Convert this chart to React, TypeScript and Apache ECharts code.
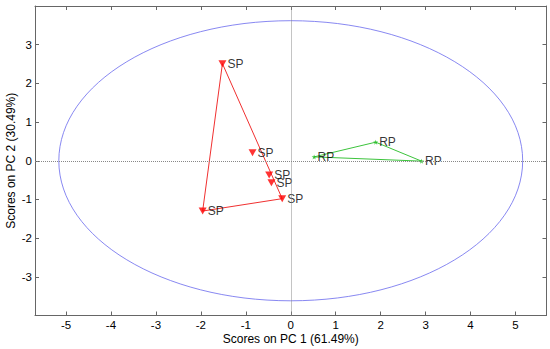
import React, { useEffect, useRef } from "react";
import * as echarts from "echarts";

const spX = [-1.52, -0.85, -0.48, -0.43, -0.19, -1.96];
const spY = [2.51, 0.21, -0.37, -0.57, -0.98, -1.3];
const spLabels = ["SP", "SP", "SP", "SP", "SP", "SP"];
const spHull = [0, 4, 5, 0];

const rpX = [0.52, 1.89, 2.91];
const rpY = [0.1, 0.48, -0.01];
const rpLabels = ["RP", "RP", "RP"];
const rpHull = [0, 1, 2, 0];

const ellipseCenter = [0, 0];
const ellipseRadii = [5.16, 3.62];

const xTicks = [-5, -4, -3, -2, -1, 0, 1, 2, 3, 4, 5];
const yTicks = [-3, -2, -1, 0, 1, 2, 3];
const xRange = [-5.69, 5.69];
const yRange = [-4, 4];

const FONT = "Liberation Sans, Arial, sans-serif";
const AXIS_COLOR = "#666";

export default function App() {
  const ref = useRef<HTMLDivElement>(null);
  useEffect(() => {
    if (!ref.current) return;
    const chart = echarts.init(ref.current, null, { renderer: "svg" });
    const spData = spX.map((x, i) => ({ value: [x, spY[i]], label: spLabels[i] }));
    const rpData = rpX.map((x, i) => ({ value: [x, rpY[i]], label: rpLabels[i] }));
    const baseAxisX = {
      type: "value",
      min: xRange[0],
      max: xRange[1],
      axisLine: { show: true, onZero: false, lineStyle: { color: AXIS_COLOR, width: 1 } },
      axisTick: { show: true, inside: true, length: 4, customValues: xTicks, lineStyle: { color: AXIS_COLOR } },
      splitLine: { show: false },
    };
    const baseAxisY = {
      type: "value",
      min: yRange[0],
      max: yRange[1],
      axisLine: { show: true, onZero: false, lineStyle: { color: AXIS_COLOR, width: 1 } },
      axisTick: { show: true, inside: true, length: 4, customValues: yTicks, lineStyle: { color: AXIS_COLOR } },
      splitLine: { show: false },
    };
    const labelStyle = {
      show: true,
      position: "right",
      distance: 1,
      fontSize: 12,
      fontFamily: FONT,
      color: "#000",
      formatter: (p: any) => p.data.label,
    };
    chart.setOption({
      animation: false,
      backgroundColor: "#fff",
      grid: { left: 35, top: 6, right: 3.5, bottom: 33.5, containLabel: false, outerBoundsMode: "none" },
      xAxis: [
        {
          ...baseAxisX,
          position: "bottom",
          name: "Scores on PC 1 (61.49%)",
          nameLocation: "middle",
          nameGap: 17,
          nameMoveOverlap: false,
          nameTextStyle: { fontSize: 12, fontFamily: FONT, color: "#000" },
          axisLabel: { show: true, customValues: xTicks, fontSize: 11.5, lineHeight: 11, fontFamily: FONT, color: "#000", margin: 4 },
        },
        { ...baseAxisX, position: "top", axisLabel: { show: false } },
      ],
      yAxis: [
        {
          ...baseAxisY,
          position: "left",
          name: "Scores on PC 2 (30.49%)",
          nameLocation: "middle",
          nameGap: 18,
          nameMoveOverlap: false,
          nameTextStyle: { fontSize: 12, fontFamily: FONT, color: "#000" },
          axisLabel: { show: true, customValues: yTicks, fontSize: 11.5, fontFamily: FONT, color: "#000", margin: 3 },
        },
        { ...baseAxisY, position: "right", axisLabel: { show: false } },
      ],
      series: [
        {
          type: "custom",
          data: [[ellipseCenter[0], ellipseCenter[1], ellipseRadii[0], ellipseRadii[1]]],
          renderItem: (params: any, api: any) => {
            const c = api.coord([api.value(0), api.value(1)]);
            const s = api.size([api.value(2), api.value(3)]);
            return {
              type: "ellipse",
              shape: { cx: c[0], cy: c[1], rx: s[0], ry: s[1] },
              style: { fill: "none", stroke: "#6a6aee", lineWidth: 0.8 },
              silent: true,
            };
          },
          markLine: {
            silent: true,
            symbol: "none",
            label: { show: false },
            lineStyle: { color: "#888", type: [1, 1], width: 1 },
            data: [{ xAxis: 0 }, { yAxis: 0 }],
          },
          z: 1,
        },
        {
          type: "line",
          data: spHull.map((i) => [spX[i], spY[i]]),
          symbol: "none",
          lineStyle: { color: "#f03030", width: 1 },
          silent: true,
          z: 2,
        },
        {
          type: "line",
          data: rpHull.map((i) => [rpX[i], rpY[i]]),
          symbol: "none",
          lineStyle: { color: "#3cc43c", width: 1 },
          silent: true,
          z: 2,
        },
        {
          type: "scatter",
          data: spData,
          symbol: "triangle",
          symbolRotate: 180,
          symbolSize: [8, 7],
          itemStyle: { color: "#ff0000" },
          label: labelStyle,
          z: 3,
        },
        {
          type: "scatter",
          data: rpData,
          symbol: "path://M0,-5 L1.2,-1.6 L4.8,-1.6 L1.9,0.6 L3,4 L0,2 L-3,4 L-1.9,0.6 L-4.8,-1.6 L-1.2,-1.6 Z",
          symbolSize: 5,
          itemStyle: { color: "#22bb22" },
          label: labelStyle,
          z: 3,
        },
      ],
    });
    return () => chart.dispose();
  }, []);
  return <div ref={ref} style={{ width: 550, height: 349, position: "absolute", left: 0, top: 0 }} />;
}
